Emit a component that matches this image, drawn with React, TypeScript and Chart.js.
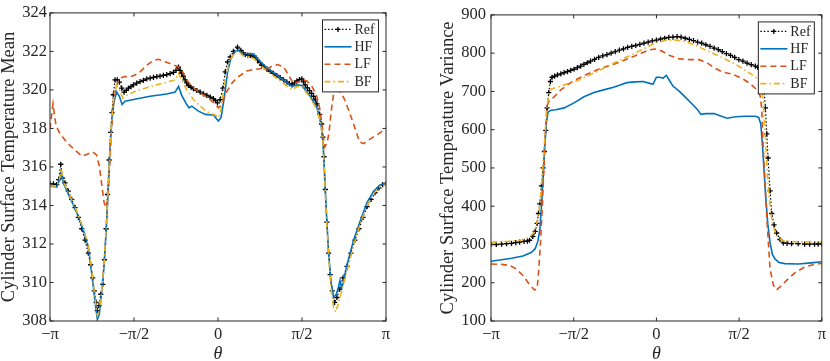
import React, { useEffect, useRef } from 'react';
import { Chart, registerables } from 'chart.js';
Chart.register(...registerables);

// θ is expressed in units of π
const thetaTicks = [-1, -0.5, 0, 0.5, 1];
const thetaTickLabels = ['−π', '−π/2', '0', 'π/2', 'π'];
const seriesNames = ['Ref', 'HF', 'LF', 'BF'];

// ---- Mean panel: [θ/π, value]
const meanRef: [number, number][] = [
  [-1.000,315.12],[-0.980,315.12],[-0.960,315.08],[-0.948,315.34],[-0.936,316.14],[-0.925,315.42],[-0.911,315.17],[-0.891,314.74],[-0.871,314.32],[-0.851,313.89],
  [-0.831,313.38],[-0.811,312.79],[-0.791,312.20],[-0.772,311.52],[-0.758,310.92],[-0.746,310.24],[-0.736,309.56],[-0.726,308.97],[-0.718,308.54],[-0.708,308.80],
  [-0.698,309.39],[-0.686,309.90],[-0.676,311.18],[-0.666,312.79],[-0.658,314.57],[-0.648,316.36],[-0.639,317.80],[-0.631,318.82],[-0.623,319.75],[-0.613,320.52],
  [-0.599,320.52],[-0.587,320.40],[-0.573,320.09],[-0.559,319.89],[-0.546,319.98],[-0.533,320.09],[-0.518,320.17],[-0.503,320.26],[-0.484,320.35],[-0.464,320.43],
  [-0.444,320.50],[-0.424,320.57],[-0.404,320.61],[-0.384,320.65],[-0.364,320.69],[-0.345,320.72],[-0.325,320.76],[-0.305,320.79],[-0.285,320.85],[-0.265,320.91],
  [-0.250,321.02],[-0.235,321.18],[-0.226,321.02],[-0.216,320.86],[-0.206,320.70],[-0.196,320.52],[-0.186,320.37],[-0.176,320.23],[-0.161,320.14],[-0.146,320.06],
  [-0.126,319.97],[-0.106,319.89],[-0.086,319.80],[-0.066,319.72],[-0.046,319.63],[-0.027,319.55],[-0.015,319.45],[-0.003,319.33],[0.013,319.50],[0.029,320.09],
  [0.043,320.94],[0.057,321.45],[0.073,321.71],[0.092,322.00],[0.116,322.22],[0.136,322.05],[0.149,321.92],[0.162,321.83],[0.177,321.81],[0.192,321.79],
  [0.203,321.78],[0.215,321.76],[0.225,321.66],[0.235,321.54],[0.248,321.41],[0.261,321.28],[0.276,321.18],[0.291,321.08],[0.310,320.97],[0.330,320.86],
  [0.350,320.75],[0.370,320.64],[0.390,320.52],[0.410,320.40],[0.425,320.33],[0.440,320.26],[0.455,320.36],[0.470,320.47],[0.485,320.53],[0.499,320.57],
  [0.509,320.42],[0.519,320.26],[0.532,320.11],[0.545,319.96],[0.557,319.82],[0.569,319.67],[0.579,319.48],[0.589,319.28],[0.605,318.73],[0.617,318.23],
  [0.625,317.55],[0.631,316.53],[0.639,314.83],[0.648,313.13],[0.658,311.52],[0.668,310.41],[0.680,309.56],[0.694,308.97],[0.708,309.22],[0.724,309.65],
  [0.744,310.24],[0.768,310.84],[0.791,311.52],[0.815,312.20],[0.839,312.79],[0.863,313.38],[0.887,313.94],[0.911,314.32],[0.934,314.66],[0.958,314.91],
  [0.980,315.08],[1.000,315.13],
];
const meanHF: [number, number][] = [
  [-1.000,315.00],[-0.960,314.96],[-0.944,315.34],[-0.934,315.76],[-0.921,315.17],[-0.881,314.40],[-0.841,313.64],[-0.801,312.70],[-0.772,311.86],[-0.746,310.07],
  [-0.730,308.88],[-0.718,308.07],[-0.706,308.37],[-0.692,309.56],[-0.678,310.92],[-0.666,312.62],[-0.654,314.66],[-0.643,316.87],[-0.631,318.56],[-0.619,319.41],
  [-0.603,319.89],[-0.587,319.67],[-0.571,319.24],[-0.553,319.41],[-0.503,319.50],[-0.404,319.67],[-0.305,319.79],[-0.255,319.89],[-0.235,320.18],[-0.216,319.72],
  [-0.186,319.24],[-0.172,319.07],[-0.156,319.16],[-0.116,318.90],[-0.076,318.73],[-0.027,318.70],[0.002,318.39],[0.018,318.56],[0.037,319.58],[0.057,320.94],
  [0.076,321.62],[0.102,322.00],[0.122,322.05],[0.147,321.88],[0.192,321.88],[0.215,321.83],[0.235,321.62],[0.291,321.15],[0.370,320.64],[0.440,320.18],
  [0.470,320.26],[0.499,320.23],[0.549,319.67],[0.589,319.07],[0.613,318.23],[0.625,317.21],[0.633,315.85],[0.644,313.81],[0.658,311.60],[0.672,310.07],
  [0.688,309.22],[0.704,309.39],[0.716,309.73],[0.726,310.11],[0.736,309.70],[0.748,310.07],[0.768,310.92],[0.807,312.20],[0.847,313.21],[0.887,314.15],
  [0.926,314.74],[0.966,315.08],[1.000,315.17],
];
const meanLF: [number, number][] = [
  [-1.000,317.97],[-0.990,318.73],[-0.982,319.28],[-0.974,318.73],[-0.964,318.14],[-0.940,317.72],[-0.901,317.29],[-0.861,316.95],[-0.811,316.56],[-0.778,316.66],
  [-0.746,316.78],[-0.722,316.61],[-0.706,316.02],[-0.692,315.08],[-0.678,314.15],[-0.666,313.89],[-0.656,314.32],[-0.646,315.85],[-0.637,317.55],[-0.623,319.24],
  [-0.607,320.18],[-0.587,320.57],[-0.559,320.69],[-0.523,320.69],[-0.494,320.77],[-0.464,320.94],[-0.424,321.28],[-0.384,321.54],[-0.354,321.59],[-0.325,321.49],
  [-0.285,321.37],[-0.245,321.23],[-0.216,321.03],[-0.186,320.52],[-0.156,320.18],[-0.106,319.84],[-0.058,319.58],[-0.018,319.28],[0.002,319.07],[0.022,319.24],
  [0.052,319.92],[0.087,320.40],[0.122,320.69],[0.171,320.98],[0.211,321.06],[0.261,321.11],[0.301,321.15],[0.330,321.25],[0.354,321.32],[0.390,321.20],
  [0.420,320.77],[0.450,320.30],[0.476,320.40],[0.499,320.52],[0.529,320.47],[0.559,320.18],[0.585,319.75],[0.605,319.07],[0.621,318.06],[0.635,317.04],
  [0.648,317.21],[0.660,317.72],[0.674,318.90],[0.688,319.79],[0.708,319.96],[0.732,319.89],[0.758,319.41],[0.787,318.73],[0.817,317.97],[0.843,317.29],
  [0.867,317.21],[0.907,317.46],[0.956,317.72],[1.000,318.02],
];
const meanBF: [number, number][] = [
  [-1.000,315.03],[-0.960,315.00],[-0.944,315.34],[-0.934,315.93],[-0.921,315.25],[-0.881,314.49],[-0.841,313.72],[-0.801,312.79],[-0.772,311.94],[-0.746,310.24],
  [-0.730,309.05],[-0.718,308.29],[-0.706,308.54],[-0.692,309.65],[-0.678,311.01],[-0.666,312.79],[-0.654,314.83],[-0.643,316.95],[-0.631,318.73],[-0.619,319.75],
  [-0.603,320.23],[-0.587,320.01],[-0.567,319.58],[-0.543,319.72],[-0.503,319.89],[-0.404,320.18],[-0.305,320.40],[-0.255,320.52],[-0.235,320.86],[-0.216,320.52],
  [-0.186,320.01],[-0.146,319.50],[-0.106,319.16],[-0.066,318.87],[-0.018,318.70],[0.002,318.56],[0.016,318.90],[0.032,319.92],[0.052,320.94],[0.076,321.62],
  [0.102,321.96],[0.122,322.00],[0.147,321.79],[0.192,321.71],[0.215,321.62],[0.235,321.45],[0.291,320.98],[0.370,320.47],[0.440,320.01],[0.470,320.18],
  [0.499,320.18],[0.549,319.58],[0.589,318.99],[0.613,318.23],[0.625,317.21],[0.633,315.85],[0.644,313.64],[0.658,311.43],[0.672,309.73],[0.688,308.71],
  [0.700,308.46],[0.716,308.88],[0.736,309.56],[0.768,310.58],[0.807,311.94],[0.847,313.04],[0.887,313.98],[0.926,314.62],[0.966,315.00],[1.000,315.08],
];

// ---- Variance panel: [θ/π, value]
const varRef: [number, number][] = [
  [-1.000,300],[-0.968,300],[-0.936,301],[-0.906,302],[-0.876,303],[-0.850,305],[-0.827,306],[-0.800,308],[-0.780,309],[-0.767,311],
  [-0.747,321],[-0.733,334],[-0.721,355],[-0.713,381],[-0.705,406],[-0.695,453],[-0.685,500],[-0.677,543],[-0.669,598],[-0.661,657],
  [-0.651,697],[-0.641,726],[-0.631,737],[-0.615,740],[-0.598,743],[-0.578,746],[-0.558,749],[-0.538,752],[-0.518,755],[-0.498,758],
  [-0.478,762],[-0.458,766],[-0.438,771],[-0.418,775],[-0.398,779],[-0.374,784],[-0.349,789],[-0.324,793],[-0.299,796],[-0.274,800],
  [-0.249,804],[-0.224,808],[-0.199,811],[-0.174,815],[-0.149,818],[-0.125,820],[-0.100,823],[-0.075,826],[-0.050,829],[-0.025,832],
  [0.000,834],[0.025,837],[0.050,839],[0.075,841],[0.100,842],[0.125,843],[0.149,842],[0.174,839],[0.199,836],[0.224,833],
  [0.249,829],[0.274,826],[0.299,822],[0.324,818],[0.349,813],[0.374,809],[0.398,804],[0.423,799],[0.448,794],[0.473,789],
  [0.498,783],[0.523,779],[0.548,774],[0.573,770],[0.598,766],[0.613,763],[0.627,760],[0.641,734],[0.651,700],[0.659,657],
  [0.667,589],[0.675,526],[0.687,440],[0.697,381],[0.711,351],[0.727,330],[0.747,313],[0.767,304],[0.790,303],[0.817,302],
  [0.857,302],[0.896,301],[0.926,301],[0.956,301],[0.978,301],[1.000,301],
];
const varHF: [number, number][] = [
  [-1.000,256],[-0.936,260],[-0.876,264],[-0.807,270],[-0.757,279],[-0.733,289],[-0.717,308],[-0.705,338],[-0.695,398],[-0.685,474],
  [-0.675,560],[-0.665,619],[-0.655,646],[-0.637,651],[-0.608,652],[-0.558,657],[-0.498,670],[-0.438,686],[-0.378,697],[-0.319,704],
  [-0.259,711],[-0.219,717],[-0.179,723],[-0.129,725],[-0.080,726],[-0.040,721],[-0.020,719],[0.000,737],[0.020,737],[0.040,735],
  [0.060,742],[0.080,728],[0.100,714],[0.139,700],[0.179,683],[0.219,666],[0.249,652],[0.269,640],[0.299,642],[0.349,642],
  [0.388,636],[0.428,630],[0.478,634],[0.538,635],[0.598,635],[0.618,632],[0.631,615],[0.641,560],[0.651,491],[0.661,423],
  [0.673,355],[0.687,304],[0.701,274],[0.717,262],[0.741,253],[0.777,250],[0.857,249],[0.936,252],[1.000,255],
];
const varLF: [number, number][] = [
  [-1.000,249],[-0.936,248],[-0.886,245],[-0.847,236],[-0.807,219],[-0.767,195],[-0.737,181],[-0.721,185],[-0.711,236],[-0.701,304],
  [-0.691,389],[-0.681,491],[-0.671,594],[-0.661,662],[-0.647,677],[-0.618,686],[-0.578,704],[-0.518,723],[-0.458,737],[-0.398,749],
  [-0.339,760],[-0.279,768],[-0.219,777],[-0.159,788],[-0.100,798],[-0.050,808],[-0.010,811],[0.030,806],[0.080,794],[0.139,785],
  [0.199,783],[0.259,783],[0.309,774],[0.349,762],[0.398,751],[0.458,745],[0.518,734],[0.568,720],[0.608,704],[0.627,689],
  [0.637,653],[0.645,560],[0.657,457],[0.667,372],[0.677,304],[0.687,236],[0.707,194],[0.727,181],[0.747,189],[0.787,206],
  [0.837,226],[0.896,241],[0.956,248],[1.000,251],
];
const varBF: [number, number][] = [
  [-1.000,306],[-0.896,308],[-0.817,311],[-0.767,319],[-0.741,332],[-0.725,351],[-0.711,381],[-0.699,432],[-0.687,500],[-0.675,577],
  [-0.663,653],[-0.651,691],[-0.637,706],[-0.598,711],[-0.538,720],[-0.478,728],[-0.418,740],[-0.359,752],[-0.299,765],[-0.239,778],
  [-0.179,790],[-0.120,802],[-0.060,815],[0.000,828],[0.060,834],[0.120,834],[0.179,830],[0.239,820],[0.299,808],[0.359,796],
  [0.418,784],[0.478,771],[0.538,755],[0.598,738],[0.627,728],[0.641,696],[0.651,636],[0.661,560],[0.671,483],[0.683,415],
  [0.697,368],[0.713,338],[0.733,319],[0.767,309],[0.837,307],[1.000,306],
];

const FONT = "'Liberation Serif', 'Times New Roman', serif";
const TXT = '#262626';
const COLORS = ['#000000', '#0072BD', '#D95319', '#EDB120'];
const DASHES: number[][] = [[1.5, 2], [], [6, 4], [6, 3, 1.5, 3]];
const WIDTHS = [1.2, 1.6, 1.6, 1.6];

const framePlugin = {
  id: 'frame',
  afterDraw(chart: any, _args: any, opts: any) {
    const { ctx, chartArea: a, scales } = chart;
    ctx.save();
    ctx.strokeStyle = TXT;
    ctx.lineWidth = 1;
    ctx.setLineDash([]);
    ctx.strokeRect(a.left, a.top, a.right - a.left, a.bottom - a.top);
    const tl = 3.5;
    ctx.beginPath();
    scales.x.ticks.forEach((tk: any) => {
      const px = scales.x.getPixelForValue(tk.value);
      ctx.moveTo(px, a.bottom); ctx.lineTo(px, a.bottom - tl);
      ctx.moveTo(px, a.top); ctx.lineTo(px, a.top + tl);
    });
    scales.y.ticks.forEach((tk: any) => {
      const py = scales.y.getPixelForValue(tk.value);
      ctx.moveTo(a.left, py); ctx.lineTo(a.left + tl, py);
      ctx.moveTo(a.right, py); ctx.lineTo(a.right - tl, py);
    });
    ctx.stroke();

    // legend
    const lw = opts.legendW, lh = 72;
    const lx = a.right - 7.5 - lw, ly = a.top + 7;
    ctx.fillStyle = '#ffffff';
    ctx.fillRect(lx, ly, lw, lh);
    ctx.strokeStyle = TXT;
    ctx.lineWidth = 1;
    ctx.strokeRect(lx, ly, lw, lh);
    ctx.font = `14px ${FONT}`;
    ctx.textBaseline = 'middle';
    ctx.textAlign = 'left';
    seriesNames.forEach((name, i) => {
      const y = ly + 9.5 + i * 17.4;
      ctx.beginPath();
      ctx.strokeStyle = COLORS[i];
      ctx.lineWidth = WIDTHS[i];
      ctx.setLineDash(DASHES[i]);
      ctx.moveTo(lx + 2, y); ctx.lineTo(lx + 29, y);
      ctx.stroke();
      ctx.setLineDash([]);
      if (i === 0) {
        const cx = lx + 15.5;
        ctx.beginPath();
        ctx.lineWidth = 1.3;
        ctx.moveTo(cx - 2.5, y); ctx.lineTo(cx + 2.5, y);
        ctx.moveTo(cx, y - 2.5); ctx.lineTo(cx, y + 2.5);
        ctx.stroke();
      }
      ctx.fillStyle = TXT;
      ctx.fillText(name, lx + 32, y + 0.5);
    });
    ctx.restore();
  },
};

function makeConfig(p: any) {
  const sets = [p.ref, p.hf, p.lf, p.bf];
  return {
    type: 'line',
    data: {
      datasets: sets.map((s: [number, number][], i: number) => ({
        label: seriesNames[i],
        data: s.slice().sort((u, v) => u[0] - v[0]).map(([x, y]) => ({ x, y })),
        borderColor: COLORS[i],
        backgroundColor: COLORS[i],
        borderWidth: WIDTHS[i],
        borderDash: DASHES[i],
        pointRadius: i === 0 ? 2.6 : 0,
        pointStyle: 'cross',
        pointBorderWidth: 1.3,
        pointBorderColor: '#000',
        tension: 0,
        fill: false,
        order: 4 - i,
      })),
    },
    options: {
      animation: false,
      responsive: false,
      maintainAspectRatio: false,
      layout: { padding: { left: p.padLeft, right: p.padRight, top: 7, bottom: 0 } },
      plugins: {
        legend: { display: false },
        tooltip: { enabled: false },
        frame: { legendW: p.legendW },
      },
      scales: {
        x: {
          type: 'linear',
          min: -1,
          max: 1,
          afterBuildTicks: (s: any) => { s.ticks = thetaTicks.map((v) => ({ value: v })); },
          ticks: {
            callback: (_v: any, i: number) => thetaTickLabels[i],
            font: { family: FONT, size: 16.5 },
            color: TXT,
            padding: 4,
            maxRotation: 0,
            autoSkip: false,
          },
          grid: { display: false, drawTicks: false },
          border: { display: false },
          title: {
            display: true,
            text: 'θ',
            font: { family: FONT, size: 18, style: 'italic', lineHeight: 1 },
            color: TXT,
            padding: { top: 0, bottom: -2.5 },
          },
          afterFit: (s: any) => { s.height = 40; },
        },
        y: {
          type: 'linear',
          min: p.yMin,
          max: p.yMax,
          ticks: {
            stepSize: p.yStep,
            font: { family: FONT, size: 16.5 },
            color: TXT,
            padding: p.tickPad,
          },
          grid: { display: false, drawTicks: false },
          border: { display: false },
          title: {
            display: true,
            text: p.yTitle,
            font: { family: FONT, size: 18.5, lineHeight: 1 },
            color: TXT,
            padding: { top: 0, bottom: 0 },
          },
          afterFit: (s: any) => { s.width = p.yWidth; },
        },
      },
    },
    plugins: [framePlugin],
  } as any;
}

export default function App() {
  const leftRef = useRef<HTMLCanvasElement>(null);
  const rightRef = useRef<HTMLCanvasElement>(null);
  useEffect(() => {
    const c1 = new Chart(leftRef.current as HTMLCanvasElement, makeConfig({
      ref: meanRef, hf: meanHF, lf: meanLF, bf: meanBF,
      yMin: 308, yMax: 324, yStep: 2,
      yTitle: 'Cylinder Surface Temperature Mean',
      padLeft: 0, yWidth: 50, padRight: 29, tickPad: 3, legendW: 56,
    }));
    const c2 = new Chart(rightRef.current as HTMLCanvasElement, makeConfig({
      ref: varRef, hf: varHF, lf: varLF, bf: varBF,
      yMin: 100, yMax: 900, yStep: 100,
      yTitle: 'Cylinder Surface Temperature Variance',
      padLeft: 24, yWidth: 52, padRight: 4, tickPad: 5, legendW: 56,
    }));
    return () => { c1.destroy(); c2.destroy(); };
  }, []);
  return (
    <div style={{ position: 'absolute', left: 0, top: 0, width: 830, height: 361, background: '#fff' }}>
      <canvas ref={leftRef} width={415} height={361} style={{ position: 'absolute', left: 0, top: 0 }} />
      <canvas ref={rightRef} width={415} height={361} style={{ position: 'absolute', left: 415, top: 0 }} />
    </div>
  );
}
